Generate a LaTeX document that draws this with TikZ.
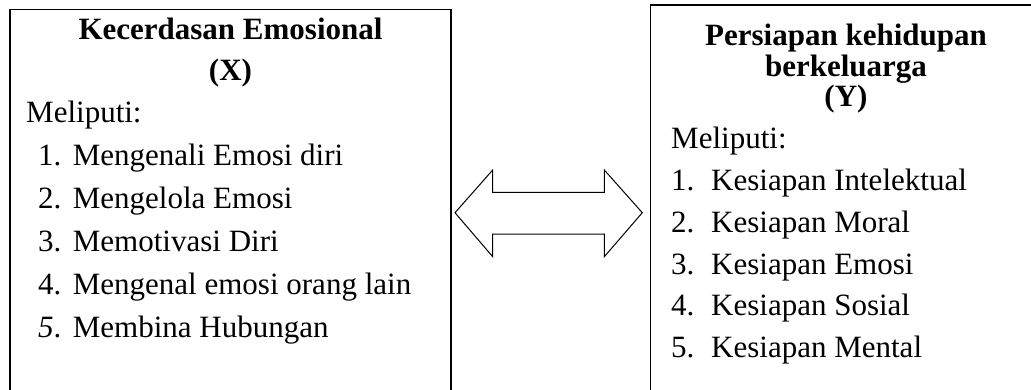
\documentclass[tikz,border=0pt]{standalone}
\usepackage{fontspec}
\setmainfont{Liberation Serif}
\begin{document}
\begin{tikzpicture}[x=1pt,y=-1pt,
  frame/.style={draw=black,line width=1.6pt},
  headtext/.style={font=\fontsize{31}{33}\selectfont\bfseries,anchor=base,inner sep=0pt},
  bodytext/.style={font=\fontsize{31}{33}\selectfont,anchor=base west,inner sep=0pt},
  bigarrow/.style={draw=black,line width=1pt,line join=miter,fill=white}]
\useasboundingbox (0,0) rectangle (1031,389);
\clip (0,0) rectangle (1031,389);
\fill[white] (0,0) rectangle (1031,389);

% variable boxes (they run past the lower and right border of the page)
\draw[frame] (10,9.5) rectangle (451,420);
\draw[frame] (650.5,5) rectangle (1060,420);

% left box: emotional intelligence
\node[headtext] (xt1) at (230.5,39) {Kecerdasan Emosional};
\node[headtext] (xt2) at (230.5,80) {(X)};
\node[bodytext] (xm) at (26,122) {Meliputi:};
\node[bodytext] (x1) at (38,165) {\makebox[34.7pt][l]{1.}Mengenali Emosi diri};
\node[bodytext] (x2) at (38,208) {\makebox[34.7pt][l]{2.}Mengelola Emosi};
\node[bodytext] (x3) at (38,251) {\makebox[34.7pt][l]{3.}Memotivasi Diri};
\node[bodytext] (x4) at (38,294) {\makebox[34.7pt][l]{4.}Mengenal emosi orang lain};
\node[bodytext] (x5) at (38,337) {\makebox[34.7pt][l]{\textit{5}.}Membina Hubungan};

% right box: readiness for family life
\node[headtext] (yt1) at (846,45) {Persiapan kehidupan};
\node[headtext] (yt2) at (846,76) {berkeluarga};
\node[headtext] (yt3) at (846,106) {(Y)};
\node[bodytext] (ym) at (671,148) {Meliputi:};
\node[bodytext] (y1) at (671,190) {\makebox[40pt][l]{1.}Kesiapan Intelektual};
\node[bodytext] (y2) at (671,232) {\makebox[40pt][l]{2.}Kesiapan Moral};
\node[bodytext] (y3) at (671,274) {\makebox[40pt][l]{3.}Kesiapan Emosi};
\node[bodytext] (y4) at (671,315) {\makebox[40pt][l]{4.}Kesiapan Sosial};
\node[bodytext] (y5) at (671,357) {\makebox[40pt][l]{5.}Kesiapan Mental};

% two-headed block arrow between the boxes
\coordinate (tipL) at (455,212.7);
\coordinate (tipR) at (642.3,212.7);
\draw[bigarrow] (tipL) -- (492.7,170) -- (492.7,192.3) -- (604.3,192.3) -- (604.3,170)
  -- (tipR) -- (604.3,256.7) -- (604.3,234) -- (492.7,234) -- (492.7,256.7) -- cycle;
\end{tikzpicture}
\end{document}
